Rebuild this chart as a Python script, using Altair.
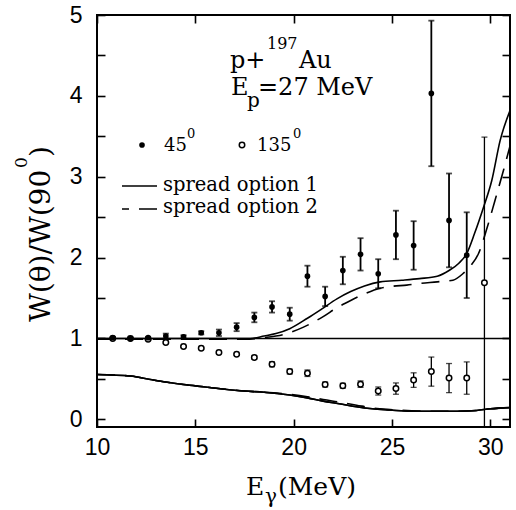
import altair as alt
import pandas as pd

# ---------------- data ----------------
x_ticks = [10, 15, 20, 25, 30]
y_ticks = [0, 0.5, 1, 1.5, 2, 2.5, 3, 3.5, 4, 4.5, 5]

# 45 degree data (filled circles)
x45 = [10.8, 11.7, 12.6, 13.5, 14.4, 15.3, 16.2, 17.1, 18.0, 18.9, 19.8,
       20.7, 21.6, 22.5, 23.4, 24.3, 25.2, 26.1, 27.0, 27.9, 28.8]
y45 = [1.01, 1.00, 1.01, 1.03, 1.02, 1.07, 1.07, 1.14, 1.26, 1.39, 1.30,
       1.77, 1.52, 1.84, 2.04, 1.80, 2.28, 2.15, 4.03, 2.46, 2.03]
e45 = [0.01, 0.01, 0.01, 0.03, 0.02, 0.02, 0.04, 0.05, 0.06, 0.07, 0.08,
       0.13, 0.12, 0.17, 0.20, 0.18, 0.30, 0.30, 0.90, 0.58, 0.53]

# 135 degree data (open circles)
x135 = [10.8, 11.7, 12.6, 13.5, 14.4, 15.3, 16.2, 17.1, 18.0, 18.9, 19.8,
        20.7, 21.6, 22.5, 23.4, 24.3, 25.2, 26.1, 27.0, 27.9, 28.8, 29.7]
y135 = [1.00, 1.00, 0.99, 0.95, 0.90, 0.88, 0.825, 0.805, 0.765, 0.68, 0.59,
        0.57, 0.43, 0.415, 0.435, 0.35, 0.38, 0.485, 0.59, 0.51, 0.51, 1.69]
e135 = [0.01, 0.01, 0.01, 0.01, 0.01, 0.01, 0.01, 0.01, 0.02, 0.03, 0.03,
        0.04, 0.03, 0.03, 0.04, 0.05, 0.07, 0.09, 0.18, 0.18, 0.20, 1.80]

# spread option 1 (solid) upper curve
s1_up_x = [10, 12, 14, 16, 17, 17.8, 18.5, 19.1, 19.8, 20.7, 21.4, 22.2, 22.9,
           23.6, 24.4, 25.5, 26.4, 27.3, 27.9, 28.4, 28.8, 29.2, 29.65, 30.07,
           30.5, 31.0]
s1_up_y = [1.0, 1.0, 1.0, 1.0, 1.0, 1.0, 1.03, 1.06, 1.12, 1.25, 1.36, 1.49,
           1.58, 1.65, 1.70, 1.72, 1.74, 1.77, 1.84, 1.93, 2.05, 2.30, 2.62,
           2.95, 3.45, 3.82]
# spread option 2 (dashed) upper curve
s2_up_x = [10, 12, 14, 16, 17.5, 18.5, 19.1, 19.5, 20.5, 21.5, 22.2, 22.9, 23.6,
           24.4, 25.0, 25.75, 26.4, 27.3, 28.1, 28.6, 29.0, 29.4, 29.8, 30.24,
           30.67, 31.0]
s2_up_y = [0.99, 0.99, 0.99, 0.99, 0.99, 1.01, 1.03, 1.05, 1.14, 1.27, 1.38,
           1.47, 1.55, 1.62, 1.645, 1.66, 1.68, 1.70, 1.72, 1.80, 1.90, 2.05,
           2.34, 2.71, 3.08, 3.38]
# lower curves
s1_lo_x = [10, 11.7, 13, 14.4, 15.5, 16.4, 17.5, 18.5, 19.8, 20.7, 21.5, 22.4,
           23.2, 24.0, 24.9, 26.0, 27.0, 28.3, 29.3, 30.0, 31.0]
s1_lo_y = [0.555, 0.535, 0.48, 0.43, 0.40, 0.375, 0.35, 0.335, 0.30, 0.265,
           0.225, 0.19, 0.155, 0.13, 0.115, 0.10, 0.10, 0.10, 0.11, 0.13, 0.145]
s2_lo_x = [10, 11.7, 13, 14.4, 15.5, 16.4, 17.5, 18.5, 19.8, 20.7, 21.5, 22.4,
           23.2, 24.0, 24.9, 26.0, 27.0, 28.3, 29.3, 30.0, 31.0]
s2_lo_y = [0.555, 0.535, 0.48, 0.43, 0.40, 0.375, 0.35, 0.335, 0.31, 0.28,
           0.245, 0.21, 0.175, 0.14, 0.12, 0.105, 0.10, 0.10, 0.11, 0.13, 0.145]

ref_level = [1.0]

# texts
reaction = ["p+", "197", "Au"]
beam = ["E", "p", "=27 MeV"]
angle_labels = ["45", "135", "0"]
curve_labels = ["spread option 1", "spread option 2"]
x_title = ["E", "\u03b3", "(MeV)"]
y_title = ["W(\u03b8)/W(90", "0", ")"]

# ---------------- chart ----------------
W, H = 413, 412
xs = alt.Scale(domain=[10, 31], nice=False, zero=False)
ys = alt.Scale(domain=[-0.095, 5.0], nice=False, zero=False)

tick_common = dict(grid=False, domain=False, tickSize=8, offset=-8,
                   tickWidth=1.6, tickColor="black", title=None,
                   labelFlush=False, labelOverlap=False)

x_axis_bottom = alt.Axis(orient="bottom", values=x_ticks, labelFont="Liberation Sans",
                         labelFontSize=23, labelColor="black", labelPadding=9,
                         format="d", **tick_common)
y_axis_left = alt.Axis(orient="left", values=y_ticks, labelFont="Liberation Sans",
                       labelFontSize=23, labelColor="black", labelPadding=15,
                       labelExpr="datum.value % 1 === 0 ? format(datum.value, 'd') : ''",
                       **tick_common)
x_axis_top = alt.Axis(orient="top", values=x_ticks, labels=False, **tick_common)
y_axis_right = alt.Axis(orient="right", values=y_ticks, labels=False, **tick_common)


def curve(xv, yv, dash=None, xaxis=None, yaxis=None):
    df = pd.DataFrame({"x": xv, "y": yv})
    kw = dict(color="black", strokeWidth=1.6, interpolate="monotone")
    if dash:
        kw["strokeDash"] = dash
    return alt.Chart(df).mark_line(**kw).encode(
        x=alt.X("x:Q", scale=xs, axis=xaxis),
        y=alt.Y("y:Q", scale=ys, axis=yaxis),
    )


def errbars(xv, yv, ev, width):
    df = pd.DataFrame({"x": xv, "lo": [a - b for a, b in zip(yv, ev)],
                       "hi": [a + b for a, b in zip(yv, ev)]})
    base = alt.Chart(df)
    r = base.mark_rule(color="black", strokeWidth=width, clip=True).encode(
        x=alt.X("x:Q", scale=xs, axis=None),
        y=alt.Y("lo:Q", scale=ys, axis=None), y2="hi:Q")
    t1 = base.mark_tick(color="black", orient="horizontal", size=6,
                        thickness=width, clip=True).encode(
        x=alt.X("x:Q", scale=xs, axis=None), y=alt.Y("lo:Q", scale=ys, axis=None))
    t2 = base.mark_tick(color="black", orient="horizontal", size=6,
                        thickness=width, clip=True).encode(
        x=alt.X("x:Q", scale=xs, axis=None), y=alt.Y("hi:Q", scale=ys, axis=None))
    return [r, t1, t2]


def txt(s, rx, ry, font, size, angle=0, align="left"):
    kw = dict(align=align, baseline="alphabetic", font=font, fontSize=size,
              color="black")
    if angle:
        kw["angle"] = angle
    return alt.Chart(pd.DataFrame({"t": [s]})).mark_text(**kw).encode(
        x=alt.value(rx), y=alt.value(ry), text="t:N")


line1_up = curve(s1_up_x, s1_up_y, xaxis=x_axis_bottom, yaxis=y_axis_left)
line1_lo = curve(s1_lo_x, s1_lo_y)
line2_up = curve(s2_up_x, s2_up_y, dash=[18, 10])
line2_lo = curve(s2_lo_x, s2_lo_y, dash=[18, 10])
mirror = curve(s1_lo_x, s1_lo_y, xaxis=x_axis_top, yaxis=y_axis_right)

hline = alt.Chart(pd.DataFrame({"y": ref_level})).mark_rule(
    color="black", strokeWidth=1.5).encode(y=alt.Y("y:Q", scale=ys, axis=None))

open_pts = alt.Chart(pd.DataFrame({"x": x135, "y": y135})).mark_point(
    shape="circle", filled=False, color="black", fill="white", fillOpacity=1,
    size=30, strokeWidth=1.5, opacity=1).encode(
    x=alt.X("x:Q", scale=xs, axis=None), y=alt.Y("y:Q", scale=ys, axis=None))
fill_pts = alt.Chart(pd.DataFrame({"x": x45, "y": y45})).mark_point(
    shape="circle", filled=True, color="black", size=32, opacity=1).encode(
    x=alt.X("x:Q", scale=xs, axis=None), y=alt.Y("y:Q", scale=ys, axis=None))

SER = "DejaVu Serif"

texts = [
    txt(reaction[0], 133, 53, SER, 24),
    txt(reaction[1], 170, 34, SER, 16),
    txt(reaction[2], 202, 53, SER, 24),
    txt(beam[0], 134, 80, SER, 24),
    txt(beam[1], 150, 92, SER, 20),
    txt(beam[2], 161, 80, SER, 24),
    txt(angle_labels[0], 67, 136, SER, 18),
    txt(angle_labels[2], 90, 123, SER, 13),
    txt(angle_labels[1], 160, 136, SER, 18),
    txt(angle_labels[2], 196, 123, SER, 13),
    txt(curve_labels[0], 66, 176, SER, 19.5),
    txt(curve_labels[1], 66, 198, SER, 19.5),
    txt(x_title[0], 149, 480, SER, 25),
    txt(x_title[1], 168, 488, SER, 20),
    txt(x_title[2], 181, 480, SER, 25),
    txt(y_title[0], -47, 307, SER, 28, angle=270),
    txt(y_title[1], -70, 153, SER, 17, angle=270),
    txt(y_title[2], -47, 142, SER, 28, angle=270),
]

one = pd.DataFrame({"k": [0]})
leg_fill = alt.Chart(one).mark_point(shape="circle", filled=True, color="black",
                                     size=32, opacity=1).encode(
    x=alt.value(45), y=alt.value(130))
leg_open = alt.Chart(one).mark_point(shape="circle", filled=False, color="black",
                                     size=30, strokeWidth=1.5, opacity=1).encode(
    x=alt.value(145), y=alt.value(130))
leg_solid = alt.Chart(one).mark_rule(color="black", strokeWidth=1.6).encode(
    x=alt.value(25), x2=alt.value(60), y=alt.value(171))
leg_dash = alt.Chart(one).mark_rule(color="black", strokeWidth=1.6,
                                    strokeDash=[18, 10], strokeDashOffset=11).encode(
    x=alt.value(25), x2=alt.value(60), y=alt.value(194))

layers = ([line1_up, line1_lo, line2_up, line2_lo, mirror, hline]
          + errbars(x135, y135, e135, 1.3)
          + errbars(x45, y45, e45, 1.8)
          + [open_pts, fill_pts, leg_fill, leg_open, leg_solid, leg_dash]
          + texts)

chart = alt.layer(*layers).resolve_axis(
    x="independent", y="independent"
).properties(
    width=W, height=H,
    padding={"left": 97, "top": 15, "right": 6, "bottom": 83},
    autosize=alt.AutoSizeParams(type="none"),
    background="white",
).configure_view(stroke="black", strokeWidth=2)

chart.save("out.html", embed_options={"renderer": "svg", "actions": False})
